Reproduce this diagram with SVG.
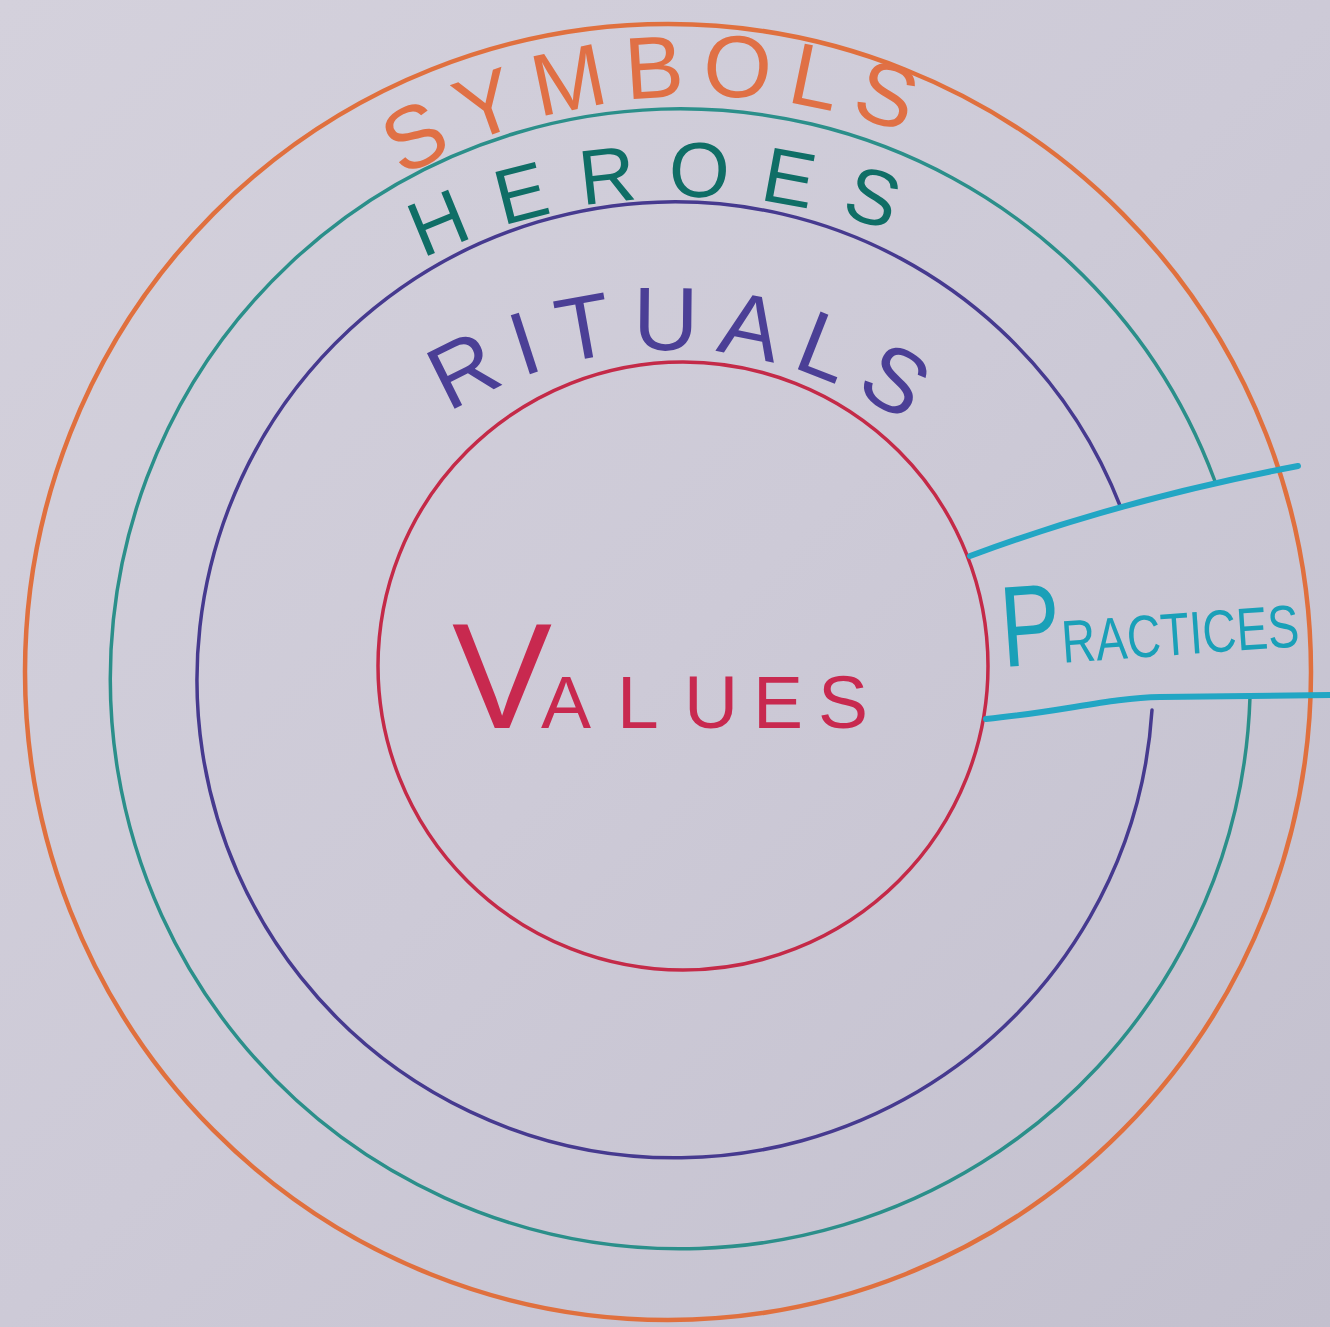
<svg xmlns="http://www.w3.org/2000/svg" width="1330" height="1327" viewBox="0 0 1330 1327">
  <defs>
    <linearGradient id="paper" x1="0" y1="0" x2="1" y2="1">
      <stop offset="0" stop-color="#d4d1dc"/>
      <stop offset="0.5" stop-color="#cdcad7"/>
      <stop offset="1" stop-color="#c3c0ce"/>
    </linearGradient>
    <!-- baselines for the curved layer labels -->
    <path id="arc-symbols" d="M 289.2 266.6 A 580 580 0 0 1 1031.8 200.3"/>
    <path id="arc-heroes" d="M 278.5 360.3 A 600 600 0 0 1 1048.6 315.9"/>
    <path id="arc-rituals" d="M 383.8 464.5 A 415 415 0 0 1 970.5 478.8"/>
  </defs>
  <style>
    .ring { fill: none; stroke-linecap: round; }
    .label { font-family: "Liberation Sans", "DejaVu Sans", sans-serif; }
    .band { fill: none; stroke: #22a6c4; stroke-width: 6; stroke-linecap: round; stroke-linejoin: round; }
  </style>

  <rect width="1330" height="1327" fill="url(#paper)"/>

  <!-- outer layer: symbols -->
  <g id="symbols">
    <ellipse class="ring" cx="668" cy="672" rx="643" ry="648" stroke="#e0703e" stroke-width="4.5"/>
    <text class="label" font-size="88" fill="#e07045" letter-spacing="16" text-anchor="middle">
      <textPath href="#arc-symbols" startOffset="51%">SYMBOLS</textPath>
    </text>
  </g>

  <!-- second layer: heroes (open on the right for practices) -->
  <g id="heroes">
    <path class="ring" d="M 1214.5 480 A 570 570 0 1 0 1250 697" stroke="#2b8f8a" stroke-width="3.5"/>
    <text class="label" font-size="78" fill="#0f6e66" letter-spacing="30" text-anchor="middle">
      <textPath href="#arc-heroes" startOffset="51.5%">HEROES</textPath>
    </text>
  </g>

  <!-- third layer: rituals (open on the right for practices) -->
  <g id="rituals">
    <path class="ring" d="M 1121 508 A 478 478 0 1 0 1152 710" stroke="#463a8f" stroke-width="3.5"/>
    <text class="label" font-size="90" fill="#4b3f96" letter-spacing="17" text-anchor="middle">
      <textPath href="#arc-rituals" startOffset="51%">RITUALS</textPath>
    </text>
  </g>

  <!-- core: values -->
  <g id="values">
    <ellipse class="ring" cx="683" cy="666" rx="305" ry="304" stroke="#c42a48" stroke-width="3.5"/>
    <text class="label" y="728" fill="#c8294f"><tspan x="452" font-size="150">V</tspan><tspan x="541 617 684 753 818" font-size="75">ALUES</tspan></text>
  </g>

  <!-- band cutting through the outer layers -->
  <g id="practices">
    <path class="band" d="M 970 556 Q 1120 500 1298 466"/>
    <path class="band" d="M 986 719 C 1060 712 1110 698 1160 697 L 1330 695"/>
    <text class="label" x="1003" y="667" fill="#1aa0b8" transform="rotate(-4 1003 667)" textLength="298" lengthAdjust="spacingAndGlyphs"><tspan font-size="115">P</tspan><tspan font-size="60">RACTICES</tspan></text>
  </g>
</svg>
